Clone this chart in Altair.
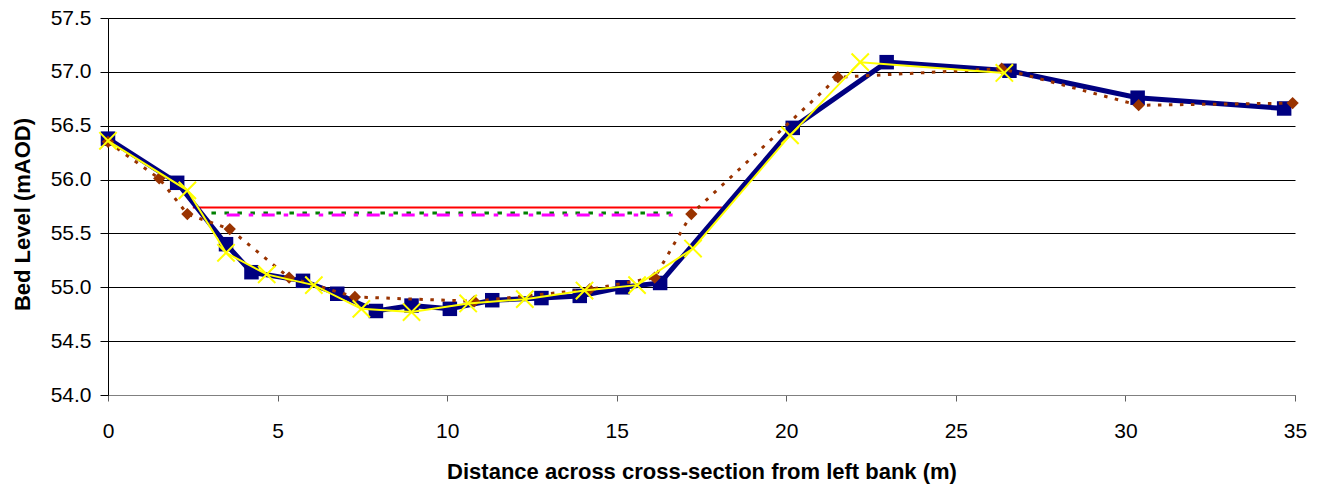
import altair as alt
import pandas as pd

# Surveyed bed profile (navy squares)
blue_x = [0, 2.04, 3.48, 4.23, 5.75, 6.76, 7.90, 8.95, 10.08, 11.33, 12.78, 13.91, 15.17, 16.28, 20.19, 22.96, 26.58, 30.36, 34.68]
blue_y = [56.38, 55.97, 55.40, 55.14, 55.06, 54.94, 54.78, 54.83, 54.80, 54.88, 54.90, 54.92, 55.00, 55.04, 56.48, 57.09, 57.01, 56.76, 56.66]

# Second survey (brown diamonds, dotted)
brown_x = [0, 1.51, 2.34, 3.59, 5.34, 7.28, 10.80, 14.20, 16.12, 17.20, 21.52, 26.35, 30.39, 34.93]
brown_y = [56.35, 56.01, 55.68, 55.54, 55.09, 54.91, 54.87, 54.98, 55.09, 55.68, 56.95, 57.03, 56.69, 56.71]

# Third survey (yellow crosses)
yellow_x = [0, 2.34, 3.48, 4.68, 6.07, 7.47, 8.95, 10.62, 12.29, 14.05, 15.60, 17.25, 20.11, 22.18, 26.43]
yellow_y = [56.36, 55.90, 55.32, 55.12, 55.02, 54.80, 54.77, 54.85, 54.89, 54.97, 55.02, 55.36, 56.41, 57.09, 56.99]

# Water levels
red_x = [2.50, 18.10]
red_y = [55.74, 55.74]
green_x = [3.05, 16.75]
green_y = [55.69, 55.69]
magenta_x = [3.50, 16.65]
magenta_y = [55.67, 55.67]

x_ticks = [0, 5, 10, 15, 20, 25, 30, 35]
y_ticks = [54.0, 54.5, 55.0, 55.5, 56.0, 56.5, 57.0, 57.5]

FONT = "Liberation Sans"


def frame(xs, ys):
    return pd.DataFrame({"x": xs, "y": ys})


xenc = alt.X(
    "x:Q",
    scale=alt.Scale(domain=[0, 35], nice=False, zero=False),
    axis=alt.Axis(
        values=x_ticks,
        format="d",
        grid=False,
        labelFlush=False,
        domainColor="#808080",
        domainWidth=1,
        tickColor="#606060",
        tickSize=6,
        labelFontSize=21,
        labelFont=FONT,
        labelColor="#000000",
        labelPadding=19,
        titleFont=FONT,
        titleFontSize=22,
        titleFontWeight="bold",
        titleColor="#000000",
        titleBaseline="alphabetic",
        titleY=83,
    ),
    title="Distance across cross-section from left bank (m)",
)

yenc = alt.Y(
    "y:Q",
    scale=alt.Scale(domain=[54, 57.5], nice=False, zero=False),
    axis=alt.Axis(
        values=y_ticks,
        format=".1f",
        grid=True,
        labelFlush=False,
        gridColor="#000000",
        gridWidth=1,
        domainColor="#000000",
        tickColor="#000000",
        tickSize=8,
        labelFontSize=21,
        labelFont=FONT,
        labelColor="#000000",
        labelPadding=9,
        titleFont=FONT,
        titleFontSize=22,
        titleFontWeight="bold",
        titleColor="#000000",
        titleAngle=270,
        titleAlign="center",
        titleBaseline="middle",
        titleX=-86,
        titleY=196,
    ),
    title="Bed Level (mAOD)",
)

red = alt.Chart(frame(red_x, red_y)).mark_line(color="#FF0000", strokeWidth=2).encode(x=xenc, y=yenc)
green = alt.Chart(frame(green_x, green_y)).mark_line(
    color="#008000", strokeWidth=3, strokeDash=[4.5, 8.5]
).encode(x=xenc, y=yenc)
magenta = alt.Chart(frame(magenta_x, magenta_y)).mark_line(
    color="#FF00FF", strokeWidth=3, strokeDash=[13, 9, 4.5, 8.5]
).encode(x=xenc, y=yenc)

blue_df = frame(blue_x, blue_y)
blue_line = alt.Chart(blue_df).mark_line(color="#000080", strokeWidth=5).encode(x=xenc, y=yenc)
blue_pts = alt.Chart(blue_df).mark_point(
    shape="square", filled=True, color="#000080", opacity=1, size=210
).encode(x=xenc, y=yenc)

brown_df = frame(brown_x, brown_y)
brown_line = alt.Chart(brown_df).mark_line(
    color="#993300", strokeWidth=3, strokeDash=[3.5, 7.5]
).encode(x=xenc, y=yenc)
brown_pts = alt.Chart(brown_df).mark_point(
    shape="diamond", filled=True, color="#993300", opacity=1, size=150
).encode(x=xenc, y=yenc)

yellow_df = frame(yellow_x, yellow_y)
yellow_line = alt.Chart(yellow_df).mark_line(color="#FFFF00", strokeWidth=2).encode(x=xenc, y=yenc)
yellow_pts = alt.Chart(yellow_df).mark_point(
    shape="M-1,-1L1,1M-1,1L1,-1", filled=False, color="#FFFF00", strokeWidth=2, opacity=1, size=300
).encode(x=xenc, y=yenc)

chart = alt.layer(
    red, green, magenta,
    blue_line, blue_pts,
    brown_line, brown_pts,
    yellow_line, yellow_pts,
).properties(
    width=1187,
    height=377,
    autosize=alt.AutoSizeParams(type="none"),
    padding={"left": 108, "top": 18, "right": 35, "bottom": 97},
    background="#FFFFFF",
).configure_view(stroke=None)

chart.save("out.html", embed_options={"renderer": "svg", "actions": False})
